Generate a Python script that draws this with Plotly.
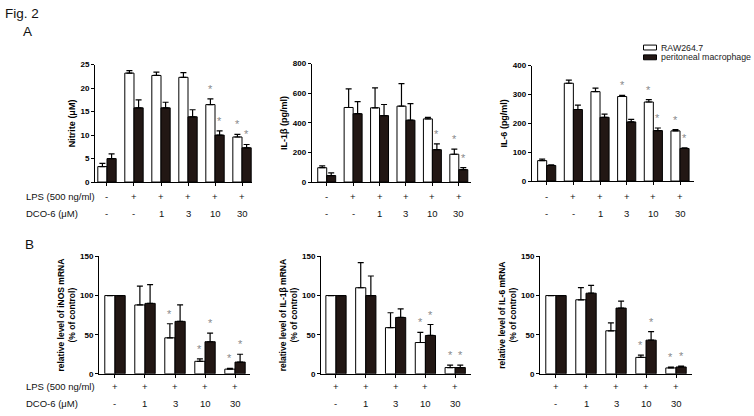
import plotly.graph_objects as go

W, H = 754, 416
FONT = "Liberation Sans, Arial, sans-serif"

# ---------------- data ----------------
lps_top = ["-", "+", "+", "+", "+", "+"]
dco_top = ["-", "-", "1", "3", "10", "30"]
lps_bot = ["+", "+", "+", "+", "+"]
dco_bot = ["-", "1", "3", "10", "30"]

nitrite_raw = [3.3, 23.2, 22.7, 22.3, 16.5, 9.6]
nitrite_raw_err = [0.7, 0.55, 0.7, 1.0, 1.2, 0.55]
nitrite_peri = [5.0, 15.8, 15.8, 13.9, 10.0, 7.3]
nitrite_peri_err = [1.0, 1.7, 1.2, 1.5, 0.9, 0.7]
nitrite_raw_sig = [0, 0, 0, 0, 1, 1]
nitrite_peri_sig = [0, 0, 0, 0, 1, 1]

il1b_raw = [97, 504, 502, 513, 427, 188]
il1b_raw_err = [13, 126, 134, 152, 10, 35]
il1b_peri = [44, 462, 449, 418, 219, 84]
il1b_peri_err = [18, 82, 75, 112, 39, 13]
il1b_raw_sig = [0, 0, 0, 0, 0, 1]
il1b_peri_sig = [0, 0, 0, 0, 1, 1]

il6_raw = [71, 339, 310, 293, 274, 174]
il6_raw_err = [5, 11, 12, 4, 8, 4]
il6_peri = [54, 248, 221, 205, 175, 113]
il6_peri_err = [2, 15, 11, 9, 9, 2]
il6_raw_sig = [0, 0, 0, 1, 1, 1]
il6_peri_sig = [0, 0, 0, 0, 1, 1]

inos_m_raw = [100, 88, 46, 16, 6]
inos_m_raw_err = [0, 24, 18, 3, 1]
inos_m_peri = [100, 90, 67, 41, 15]
inos_m_peri_err = [0, 24, 21, 11, 10]
inos_m_raw_sig = [0, 0, 1, 1, 1]
inos_m_peri_sig = [0, 0, 0, 1, 1]

il1b_m_raw = [100, 110, 59, 40, 8]
il1b_m_raw_err = [0, 32, 19, 13, 3]
il1b_m_peri = [100, 100, 72, 49, 8]
il1b_m_peri_err = [0, 25, 11, 14, 3]
il1b_m_raw_sig = [0, 0, 0, 1, 1]
il1b_m_peri_sig = [0, 0, 0, 1, 1]

il6_m_raw = [100, 94.6, 55, 21, 7.5]
il6_m_raw_err = [0, 15.5, 10, 3, 1]
il6_m_peri = [100, 103, 84, 43, 8.75]
il6_m_peri_err = [0, 10, 9, 11, 1]
il6_m_raw_sig = [0, 0, 0, 1, 1]
il6_m_peri_sig = [0, 0, 0, 1, 1]

series_names = ["RAW264.7", "peritoneal macrophage"]

# ---------------- layout helpers ----------------
def fx(p):
    return p / W

def fy(p):
    return 1 - p / H

BLACK_FILL = "#221714"
TEXT = "#111111"
BARGAP = 0.32
HALF = (1 - BARGAP) / 4  # offset of each bar centre from group centre

panels = [
    dict(raw=nitrite_raw, raw_err=nitrite_raw_err, peri=nitrite_peri, peri_err=nitrite_peri_err,
         raw_sig=nitrite_raw_sig, peri_sig=nitrite_peri_sig,
         title="Nitrite (μM)", yr=[0, 25], dt=5, xd=(95, 252), xr=[-0.444, 5.37], yd=(62, 182),
         lps=lps_top, dco=dco_top),
    dict(raw=il1b_raw, raw_err=il1b_raw_err, peri=il1b_peri, peri_err=il1b_peri_err,
         raw_sig=il1b_raw_sig, peri_sig=il1b_peri_sig,
         title="IL-1β (pg/ml)", yr=[0, 800], dt=200, xd=(311.7, 470.7), xr=[-0.568, 5.45], yd=(61, 182),
         lps=lps_top, dco=dco_top),
    dict(raw=il6_raw, raw_err=il6_raw_err, peri=il6_peri, peri_err=il6_peri_err,
         raw_sig=il6_raw_sig, peri_sig=il6_peri_sig,
         title="IL-6 (pg/ml)", yr=[0, 400], dt=100, xd=(531.7, 694), xr=[-0.5625, 5.525], yd=(63, 181),
         lps=lps_top, dco=dco_top),
    dict(raw=inos_m_raw, raw_err=inos_m_raw_err, peri=inos_m_peri, peri_err=inos_m_peri_err,
         raw_sig=inos_m_raw_sig, peri_sig=inos_m_peri_sig,
         title="relative level of iNOS mRNA<br>(% of control)", yr=[0, 150], dt=50, xd=(99, 250),
         xr=[-0.533, 4.5], yd=(258, 378), lps=lps_bot, dco=dco_bot),
    dict(raw=il1b_m_raw, raw_err=il1b_m_raw_err, peri=il1b_m_peri, peri_err=il1b_m_peri_err,
         raw_sig=il1b_m_raw_sig, peri_sig=il1b_m_peri_sig,
         title="relative level of IL-1β mRNA<br>(% of control)", yr=[0, 150], dt=50, xd=(321, 470.7),
         xr=[-0.503, 4.52], yd=(258, 378), lps=lps_bot, dco=dco_bot),
    dict(raw=il6_m_raw, raw_err=il6_m_raw_err, peri=il6_m_peri, peri_err=il6_m_peri_err,
         raw_sig=il6_m_raw_sig, peri_sig=il6_m_peri_sig,
         title="relative level of IL-6 mRNA<br>(% of control)", yr=[0, 150], dt=50, xd=(540, 691.7),
         xr=[-0.533, 4.523], yd=(258, 378), lps=lps_bot, dco=dco_bot),
]

fig = go.Figure()
annotations = []
layout_axes = {}

for k, p in enumerate(panels):
    n = k + 1
    xa = "x" if n == 1 else f"x{n}"
    ya = "y" if n == 1 else f"y{n}"
    xs = list(range(len(p["raw"])))
    for name, vals, errs, fill in [
        (series_names[0], p["raw"], p["raw_err"], "white"),
        (series_names[1], p["peri"], p["peri_err"], BLACK_FILL),
    ]:
        fig.add_trace(go.Bar(
            x=xs, y=vals, name=name, xaxis=xa, yaxis=ya, showlegend=False,
            marker=dict(color=fill, line=dict(color="black", width=1)),
            error_y=dict(type="data", symmetric=False, array=errs,
                         arrayminus=[0] * len(errs), color="black", thickness=1.2, width=3),
        ))
    # significance asterisks
    for i in xs:
        if p["raw_sig"][i]:
            annotations.append(dict(x=i - HALF, y=p["raw"][i] + p["raw_err"][i], xref=xa, yref=ya,
                                    text="*", showarrow=False, yanchor="middle", yshift=10,
                                    font=dict(family=FONT, size=11, color="#8a8a8a")))
        if p["peri_sig"][i]:
            annotations.append(dict(x=i + HALF, y=p["peri"][i] + p["peri_err"][i], xref=xa, yref=ya,
                                    text="*", showarrow=False, yanchor="middle", yshift=10,
                                    font=dict(family=FONT, size=11, color="#8a8a8a")))
    # LPS / DCO rows under each panel
    row1 = 197 if p["yd"][0] < 200 else 391
    row2 = row1 + 17
    for i in xs:
        annotations.append(dict(x=i, y=fy(row1), xref=xa, yref="paper", text=p["lps"][i],
                                showarrow=False, yanchor="middle", borderpad=0,
                                font=dict(family=FONT, size=9.5, color=TEXT)))
        annotations.append(dict(x=i, y=fy(row2), xref=xa, yref="paper", text=p["dco"][i],
                                showarrow=False, yanchor="middle", borderpad=0,
                                font=dict(family=FONT, size=9.5, color=TEXT)))

    axis_common = dict(showline=True, linecolor="black", linewidth=1, ticks="outside",
                       ticklen=3, tickwidth=1, tickcolor="black", showgrid=False, zeroline=False)
    layout_axes["xaxis" if n == 1 else f"xaxis{n}"] = dict(
        axis_common, domain=[fx(p["xd"][0]), fx(p["xd"][1])], range=p["xr"],
        anchor=ya, tickvals=xs, showticklabels=False, fixedrange=True)
    layout_axes["yaxis" if n == 1 else f"yaxis{n}"] = dict(
        axis_common, domain=[fy(p["yd"][1]), fy(p["yd"][0])], range=p["yr"],
        anchor=xa, tickmode="linear", tick0=0, dtick=p["dt"], fixedrange=True,
        tickfont=dict(family=FONT, size=8, color="black", weight="bold"),
        title=dict(text=p["title"], standoff=3,
                   font=dict(family=FONT, size=9 if n <= 3 else 8.5, color="black", weight="bold")))

# row labels
for row1 in (197, 391):
    annotations.append(dict(x=fx(25), y=fy(row1), xref="paper", yref="paper", text="LPS (500 ng/ml)",
                            showarrow=False, xanchor="left", yanchor="middle", borderpad=0,
                            font=dict(family=FONT, size=9.5, color=TEXT)))
    annotations.append(dict(x=fx(25), y=fy(row1 + 17), xref="paper", yref="paper", text="DCO-6 (μM)",
                            showarrow=False, xanchor="left", yanchor="middle", borderpad=0,
                            font=dict(family=FONT, size=9.5, color=TEXT)))

# figure labels
annotations.append(dict(x=fx(3), y=fy(10), xref="paper", yref="paper", text="Fig. 2", showarrow=False,
                        xanchor="left", yanchor="middle", font=dict(family=FONT, size=13.5, color=TEXT)))
annotations.append(dict(x=fx(21), y=fy(28), xref="paper", yref="paper", text="A", showarrow=False,
                        xanchor="left", yanchor="middle", font=dict(family=FONT, size=13.5, color=TEXT)))
annotations.append(dict(x=fx(23), y=fy(246), xref="paper", yref="paper", text="B", showarrow=False,
                        xanchor="left", yanchor="middle", font=dict(family=FONT, size=13.5, color=TEXT)))

# legend (boxes + labels)
shapes = [
    dict(type="rect", xref="paper", yref="paper", x0=fx(643.5), x1=fx(656.5), y0=fy(47), y1=fy(42),
         fillcolor="white", line=dict(color="black", width=1)),
    dict(type="rect", xref="paper", yref="paper", x0=fx(643.5), x1=fx(656.5), y0=fy(57), y1=fy(52),
         fillcolor=BLACK_FILL, line=dict(color="black", width=1)),
]
annotations.append(dict(x=fx(660), y=fy(44.5), xref="paper", yref="paper", text=series_names[0],
                        showarrow=False, xanchor="left", yanchor="middle", borderpad=0,
                        font=dict(family=FONT, size=8.8, color="#222")))
annotations.append(dict(x=fx(660), y=fy(54.5), xref="paper", yref="paper", text=series_names[1],
                        showarrow=False, xanchor="left", yanchor="middle", borderpad=0,
                        font=dict(family=FONT, size=8.8, color="#222")))

fig.update_layout(
    width=W, height=H, margin=dict(l=0, r=0, t=0, b=0),
    paper_bgcolor="white", plot_bgcolor="white",
    barmode="group", bargap=BARGAP, bargroupgap=0,
    annotations=annotations, shapes=shapes, showlegend=False,
    font=dict(family=FONT),
    **layout_axes,
)

fig.write_html("out.html", config={"displayModeBar": False},
               post_script="document.body.style.margin='0';")
